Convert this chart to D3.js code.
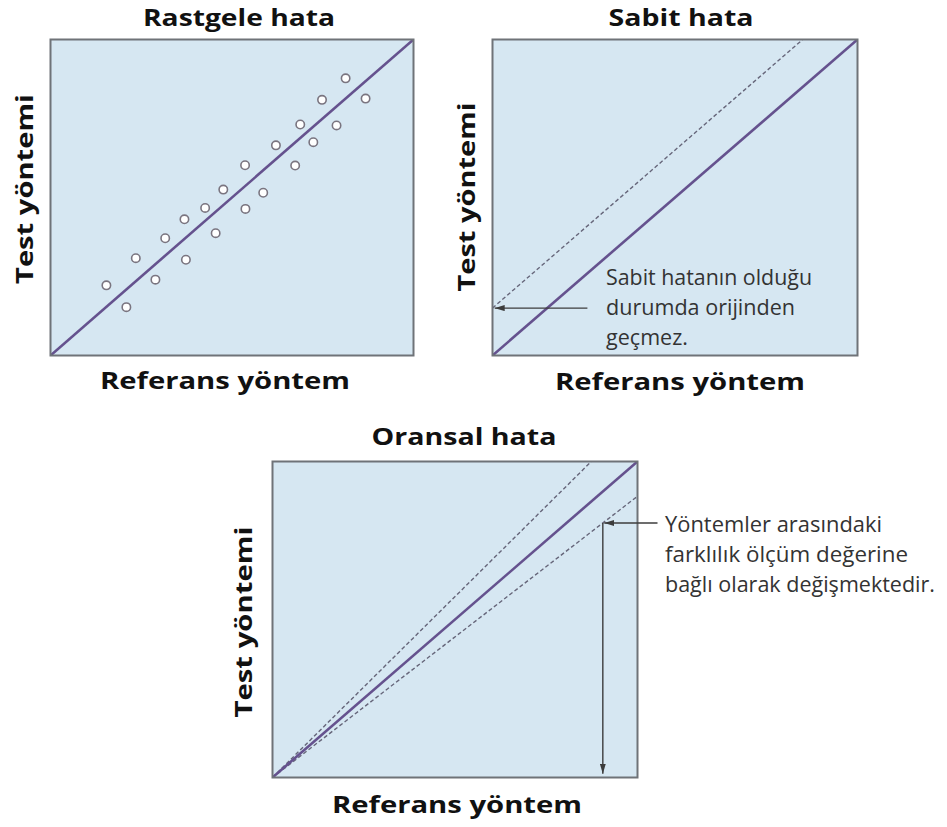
<!DOCTYPE html>
<html>
<head>
<meta charset="utf-8">
<script src="https://cdn.jsdelivr.net/npm/d3@7"></script>
<style>
  html, body { margin: 0; padding: 0; background: #ffffff; }
  svg { display: block; }
</style>
</head>
<body>
<svg id="chart" width="947" height="827"></svg>
<script>
// Scatter of paired measurements (reference method vs. test method), scale 0–100
const refValues  = [15.4, 20.9, 23.5, 28.9, 31.6, 37.3, 36.9, 42.6, 45.5, 47.6, 53.6,
                    53.7, 58.6, 62.1, 67.4, 68.8, 72.4, 74.8, 78.8, 81.3, 86.8];
const testValues = [22.2, 15.3, 30.8, 24.0, 37.1, 30.3, 43.1, 46.7, 38.7, 52.5, 60.2,
                    46.4, 51.5, 66.5, 60.1, 73.1, 67.5, 80.9, 72.8, 87.7, 81.3];

// Line of identity, constant offset, proportional slopes
const identityEnds = [0, 100];
const constantBias = 15;
const proportionalSlopes = [1.145, 0.89];
const proportionalArrowX = 90.5;
const constantArrowStartX = 26;

// Texts
const panelTitles = ["Rastgele hata", "Sabit hata", "Oransal hata"];
const xAxisLabel = "Referans yöntem";
const yAxisLabel = "Test yöntemi";
const constantNote = ["Sabit hatanın olduğu", "durumda orijinden", "geçmez."];
const proportionalNote = ["Yöntemler arasındaki", "farklılık ölçüm değerine", "bağlı olarak değişmektedir."];

// Layout of each panel (plot box + label placement)
const panels = [
  { x: 50.5,  y: 39.5,  w: 363, h: 316, title: { cx: 239, y: 26, len: 192 },
    xl: { cx: 225, y: 389, len: 250 }, yl: { x: 33, cy: 189, len: 190 } },
  { x: 492.5, y: 39.5,  w: 365, h: 316, title: { cx: 681, y: 26, len: 145 },
    xl: { cx: 680, y: 390, len: 250 }, yl: { x: 475, cy: 197, len: 189 } },
  { x: 272.5, y: 461.5, w: 365, h: 316, title: { cx: 464, y: 445, len: 185 },
    xl: { cx: 457, y: 813, len: 250 }, yl: { x: 252, cy: 622, len: 191 } }
];
const constantNoteWidths = [206, 189, 82];
const proportionalNoteWidths = [217, 243, 270];

const COLORS = {
  fill: "#d6e7f2",
  frame: "#6f7378",
  identity: "#65528e",
  dashed: "#66667a",
  point: "#7a7580",
  arrow: "#3c3c3c",
  text: "#111111",
  note: "#333333"
};
const FONT = "'Open Sans', 'Noto Sans', 'DejaVu Sans', sans-serif";

const svg = d3.select("#chart");

const defs = svg.append("defs");
defs.append("marker")
  .attr("id", "arrowhead")
  .attr("viewBox", "0 0 10 6")
  .attr("refX", 10).attr("refY", 3)
  .attr("markerWidth", 10).attr("markerHeight", 6)
  .attr("markerUnits", "userSpaceOnUse")
  .attr("orient", "auto")
  .append("path")
  .attr("d", "M0,0 L10,3 L0,6 Z")
  .attr("fill", COLORS.arrow);

function makePanel(p, title) {
  const g = svg.append("g");
  const x = d3.scaleLinear().domain([0, 100]).range([p.x, p.x + p.w]);
  const y = d3.scaleLinear().domain([0, 100]).range([p.y + p.h, p.y]);

  const clipId = "clip-" + Math.round(p.x);
  defs.append("clipPath").attr("id", clipId)
    .append("rect").attr("x", p.x).attr("y", p.y).attr("width", p.w).attr("height", p.h);

  g.append("rect")
    .attr("x", p.x).attr("y", p.y).attr("width", p.w).attr("height", p.h)
    .attr("fill", COLORS.fill);

  const plot = g.append("g").attr("clip-path", `url(#${clipId})`);

  g.append("text")
    .attr("x", p.title.cx).attr("y", p.title.y)
    .attr("text-anchor", "middle")
    .attr("font-family", FONT).attr("font-weight", 700).attr("font-size", 23)
    .attr("fill", COLORS.text)
    .attr("textLength", p.title.len).attr("lengthAdjust", "spacingAndGlyphs")
    .text(title);

  g.append("text")
    .attr("x", p.xl.cx).attr("y", p.xl.y)
    .attr("text-anchor", "middle")
    .attr("font-family", FONT).attr("font-weight", 700).attr("font-size", 24)
    .attr("fill", COLORS.text)
    .attr("textLength", p.xl.len).attr("lengthAdjust", "spacingAndGlyphs")
    .text(xAxisLabel);

  g.append("text")
    .attr("transform", `translate(${p.yl.x},${p.yl.cy}) rotate(-90)`)
    .attr("text-anchor", "middle")
    .attr("font-family", FONT).attr("font-weight", 700).attr("font-size", 24)
    .attr("fill", COLORS.text)
    .attr("textLength", p.yl.len).attr("lengthAdjust", "spacingAndGlyphs")
    .text(yAxisLabel);

  return { g, plot, x, y, p };
}

const line = (x, y) => d3.line().x(d => x(d[0])).y(d => y(d[1]));

function drawFrame(panel) {
  const p = panel.p;
  panel.g.append("rect")
    .attr("x", p.x).attr("y", p.y).attr("width", p.w).attr("height", p.h)
    .attr("fill", "none").attr("stroke", COLORS.frame).attr("stroke-width", 2);
}

function drawIdentity(panel) {
  panel.plot.append("path")
    .datum(identityEnds.map(v => [v, v]))
    .attr("d", line(panel.x, panel.y))
    .attr("fill", "none")
    .attr("stroke", COLORS.identity)
    .attr("stroke-width", 2.6);
}

function dashedPath(panel, pts) {
  panel.plot.append("path")
    .datum(pts)
    .attr("d", line(panel.x, panel.y))
    .attr("fill", "none")
    .attr("stroke", COLORS.dashed)
    .attr("stroke-width", 1.4)
    .attr("stroke-dasharray", "4,2.5");
}

function arrow(panel, from, to) {
  panel.g.append("line")
    .attr("x1", panel.x(from[0])).attr("y1", panel.y(from[1]))
    .attr("x2", panel.x(to[0])).attr("y2", panel.y(to[1]))
    .attr("stroke", COLORS.arrow)
    .attr("stroke-width", 1.4)
    .attr("marker-end", "url(#arrowhead)");
}

function note(panel, lines, widths, x, yFirst, step, fontSize) {
  lines.forEach((s, i) => {
    panel.g.append("text")
      .attr("x", x).attr("y", yFirst + i * step)
      .attr("font-family", FONT).attr("font-size", fontSize)
      .attr("fill", COLORS.note)
      .attr("textLength", widths[i]).attr("lengthAdjust", "spacingAndGlyphs")
      .text(s);
  });
}

// Panel 1: random error
const p1 = makePanel(panels[0], panelTitles[0]);
drawIdentity(p1);
p1.plot.selectAll("circle")
  .data(refValues.map((r, i) => [r, testValues[i]]))
  .join("circle")
  .attr("cx", d => p1.x(d[0]))
  .attr("cy", d => p1.y(d[1]))
  .attr("r", 4.2)
  .attr("fill", "#ffffff")
  .attr("stroke", COLORS.point)
  .attr("stroke-width", 1.6);
drawFrame(p1);

// Panel 2: constant error
const p2 = makePanel(panels[1], panelTitles[1]);
dashedPath(p2, [[0, constantBias], [100 - constantBias, 100]]);
drawIdentity(p2);
drawFrame(p2);
arrow(p2, [constantArrowStartX, constantBias], [0.6, constantBias]);
note(p2, constantNote, constantNoteWidths, 606, 285, 30, 21);

// Panel 3: proportional error
const p3 = makePanel(panels[2], panelTitles[2]);
proportionalSlopes.forEach(s => {
  const end = s > 1 ? [100 / s, 100] : [100, 100 * s];
  dashedPath(p3, [[0, 0], end]);
});
drawIdentity(p3);
drawFrame(p3);
const tipY = proportionalSlopes[1] * proportionalArrowX;
const edgeX = p3.x.invert(p3.p.x + p3.p.w + 20);
arrow(p3, [edgeX, tipY], [proportionalArrowX + 0.4, tipY]);
arrow(p3, [proportionalArrowX, tipY], [proportionalArrowX, 1.2]);
note(p3, proportionalNote, proportionalNoteWidths, 665, 532, 30, 22);
</script>
</body>
</html>
